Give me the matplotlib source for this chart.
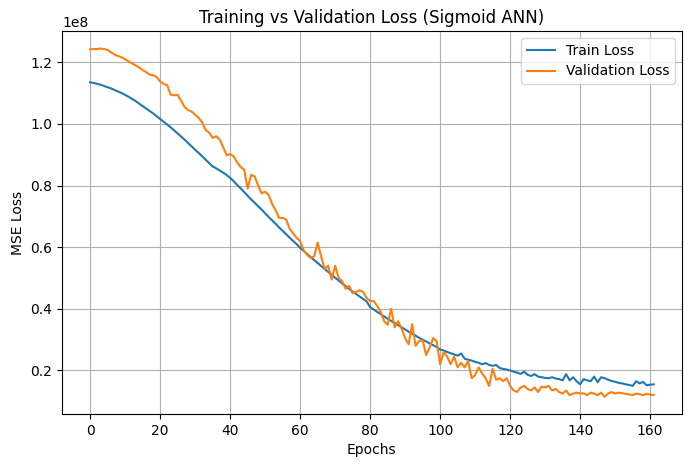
import matplotlib
matplotlib.use("Agg")
import matplotlib.pyplot as plt
import numpy as np

train_loss = [113.5,113.3,113.0,112.7,112.3,111.9,111.5,111.0,110.5,110.0,
109.4,108.8,108.1,107.4,106.6,105.8,105.0,104.2,103.4,102.5,
101.6,100.7,99.8,98.9,97.9,96.9,95.9,94.9,93.8,92.7,
91.6,90.6,89.5,88.4,87.3,86.2,85.0,83.9,82.7,81.6,
82.5,81.4,80.2,79.1,77.9,76.7,75.5,74.4,73.3,72.2,
71.0,69.8,68.7,67.6,66.4,65.3,64.2,63.1,62.0,61.0,
59.8,58.8,57.8,56.8,55.8,54.9,53.9,52.9,52.0,51.0,
50.1,49.2,48.3,47.4,46.5,45.6,44.8,44.0,43.2,42.4,
40.5,39.8,39.0,38.3,37.5,36.8,36.1,35.4,34.7,34.0,
33.3,32.6,31.9,31.3,30.6,30.0,29.4,28.8,28.2,27.6,
26.8,26.5,26.0,25.6,25.2,24.8,25.5,23.8,23.5,23.2,
22.8,22.5,22.0,22.4,21.8,21.5,21.8,20.8,20.5,20.3,
20.0,19.6,19.3,18.9,19.6,18.6,18.2,18.8,18.0,17.8,
17.6,17.5,17.8,17.4,17.2,16.8,18.8,16.8,17.8,16.5,
15.5,17.2,16.8,16.5,18.0,16.2,17.8,17.5,17.0,16.6,
16.3,16.0,15.8,15.5,15.3,15.0,16.5,15.8,16.3,15.2,
15.4,15.5]
# fix the early-epoch segment ordering (epochs 36-39)
train_loss[36:40] = [85.6,84.9,84.2,83.4]

val_loss = [124.2,124.3,124.3,124.5,124.3,124.0,123.2,122.5,122.0,121.6,
121.0,120.3,119.6,119.0,118.3,117.5,116.8,116.0,115.8,115.2,
113.8,113.0,112.6,109.5,109.3,109.4,107.5,105.5,104.5,104.0,
103.0,102.0,100.5,98.0,97.2,95.5,96.0,95.0,92.5,89.8,
90.2,89.5,87.5,86.0,85.2,79.0,83.5,83.0,80.0,77.5,
78.0,77.0,74.0,72.0,69.5,69.5,69.0,66.0,64.5,63.0,
62.0,59.0,57.5,56.5,57.0,61.5,57.0,53.0,54.0,49.5,
54.0,50.0,49.0,46.5,47.5,45.0,45.5,46.0,45.5,43.5,
42.5,42.5,41.0,39.0,36.0,34.8,40.0,34.0,36.0,33.5,
30.5,28.5,35.0,28.0,29.5,29.8,25.0,27.5,30.5,29.5,
22.0,26.0,24.5,22.0,24.5,21.0,22.5,21.0,23.0,17.5,
18.5,21.0,19.0,17.5,15.0,20.5,17.0,17.5,16.5,17.5,
15.0,13.5,13.0,14.5,15.0,14.0,13.5,14.5,13.0,14.8,
14.5,15.0,13.5,14.0,13.0,12.5,13.5,12.0,12.5,12.8,
12.5,12.6,12.0,12.8,12.5,12.0,12.8,11.5,12.5,13.0,
12.5,12.8,12.6,12.4,12.2,12.0,12.5,12.3,12.0,12.4,
12.2,12.0]

train = np.array(train_loss) * 1e6
val = np.array(val_loss) * 1e6
epochs = np.arange(len(train))

fig = plt.figure(figsize=(6.91, 4.70), dpi=100)
ax = fig.add_axes([0.0897, 0.119, 0.897, 0.815])
ax.plot(epochs, train, label="Train Loss")
ax.plot(epochs, val, label="Validation Loss")
ax.set_title("Training vs Validation Loss (Sigmoid ANN)")
ax.set_xlabel("Epochs")
ax.set_ylabel("MSE Loss")
ax.set_xticks(np.arange(0, 161, 20))
ax.grid(True)
ax.legend(loc="upper right")
fig.savefig("out.png", dpi=100)
